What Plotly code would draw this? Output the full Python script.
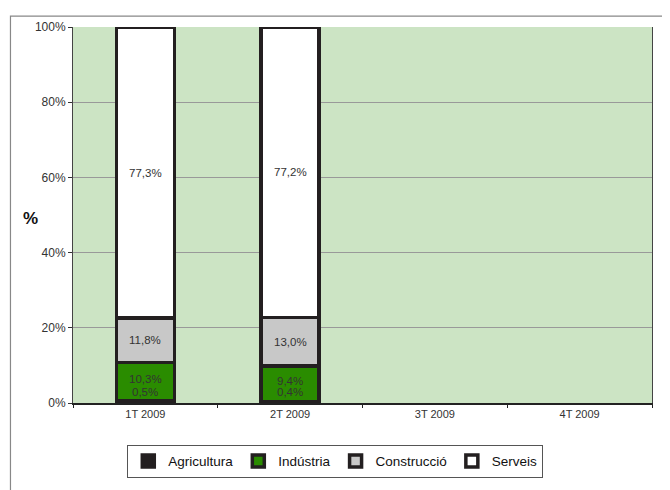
import plotly.graph_objects as go

# data
quarters = ["1T 2009", "2T 2009", "3T 2009", "4T 2009"]
agricultura = [0.5, 0.4, None, None]
industria = [10.3, 9.4, None, None]
construccio = [11.8, 13.0, None, None]
serveis = [77.3, 77.2, None, None]
y_ticks = [0, 20, 40, 60, 80, 100]

SERIES = [
    ("Agricultura", agricultura, "#231f20"),
    ("Indústria", industria, "#2a8c00"),
    ("Construcció", construccio, "#c8c8c8"),
    ("Serveis", serveis, "#ffffff"),
]

FONT = "Liberation Sans, Arial, sans-serif"


def fmt(v):
    return f"{v:.1f}".replace(".", ",") + "%"


fig = go.Figure()
for name, vals, color in SERIES:
    fig.add_trace(
        go.Bar(
            x=quarters,
            y=vals,
            name=name,
            width=0.4,
            marker=dict(color=color, line=dict(color="#231f20", width=3.5)),
            hoverinfo="skip",
        )
    )

# segment labels, placed at the middle of each segment
annotations = []
for i, q in enumerate(quarters):
    if agricultura[i] is None:
        continue
    base = 0
    for name, vals, _ in SERIES:
        v = vals[i]
        if name == "Agricultura":
            # tiny segment: Excel puts the label just above the base
            annotations.append(dict(x=q, y=0, text=fmt(v), yanchor="bottom",
                                    yshift=3, showarrow=False))
        else:
            annotations.append(dict(x=q, y=base + v / 2, text=fmt(v), yanchor="middle",
                                    yshift=3 if name == "Indústria" else 0,
                                    showarrow=False))
        base += v

annotations.append(dict(xref="paper", yref="paper", x=-0.09, y=0.49, text="<b>%</b>",
                        showarrow=False, font=dict(size=17, color="#111")))

# the page body has an 8px margin, so the figure is 8px smaller than the window
fig.update_layout(
    width=662,
    height=482,
    barmode="stack",
    paper_bgcolor="white",
    plot_bgcolor="#cce4c4",
    margin=dict(l=65, r=18, t=15, b=87),
    font=dict(family=FONT, size=11.5, color="#333"),
    annotations=annotations,
    showlegend=True,
    legend=dict(
        orientation="h",
        x=0.453,
        xanchor="center",
        y=-0.155,
        yanchor="middle",
        bordercolor="#555",
        borderwidth=1,
        font=dict(size=13.5, color="#111"),
        traceorder="normal",
        itemwidth=30,
    ),
    shapes=[
        dict(type="rect", xref="paper", yref="paper", x0=-0.108, y0=-0.3,
             x1=1.1, y1=1.029, line=dict(color="#888", width=1.2), layer="below"),
    ],
)

fig.update_xaxes(
    showline=True,
    linecolor="#222",
    linewidth=1.5,
    ticks="outside",
    tickson="boundaries",
    ticklen=3,
    tickcolor="#222",
    showgrid=False,
    tickfont=dict(size=11, color="#333"),
)
fig.update_yaxes(
    range=[0, 100],
    tickmode="array",
    tickvals=y_ticks,
    ticktext=[f"{t}%" for t in y_ticks],
    showline=True,
    mirror=True,
    linecolor="#444",
    linewidth=1,
    ticks="outside",
    ticklen=4,
    tickcolor="#333",
    showgrid=True,
    gridcolor="#999",
    gridwidth=1,
    zeroline=False,
    tickfont=dict(size=12, color="#333"),
)

fig.write_html("out.html")
